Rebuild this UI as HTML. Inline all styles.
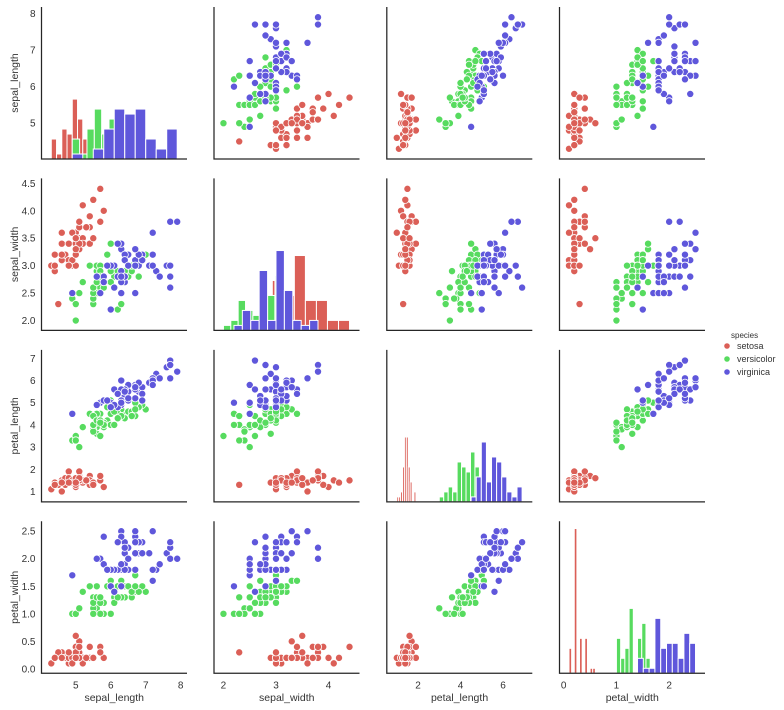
<!DOCTYPE html>
<html><head><meta charset="utf-8"><style>
body{margin:0;background:#fff;}
svg{display:block;font-family:"Liberation Sans",sans-serif;}
</style></head><body>
<svg id="chart" width="784" height="710"></svg>
<script>
const variables = ["sepal_length","sepal_width","petal_length","petal_width"];
const speciesNames = ["setosa","versicolor","virginica"];
const speciesColors = ["#db5f57","#57db5f","#5f57db"];
const sepalLength = [5.1,4.9,4.7,4.6,5.0,5.4,4.6,5.0,4.4,4.9,5.4,4.8,4.8,4.3,5.8,5.7,5.4,5.1,5.7,5.1,5.4,5.1,4.6,5.1,4.8,5.0,5.0,5.2,5.2,4.7,4.8,5.4,5.2,5.5,4.9,5.0,5.5,4.9,4.4,5.1,5.0,4.5,4.4,5.0,5.1,4.8,5.1,4.6,5.3,5.0,
7.0,6.4,6.9,5.5,6.5,5.7,6.3,4.9,6.6,5.2,5.0,5.9,6.0,6.1,5.6,6.7,5.6,5.8,6.2,5.6,5.9,6.1,6.3,6.1,6.4,6.6,6.8,6.7,6.0,5.7,5.5,5.5,5.8,6.0,5.4,6.0,6.7,6.3,5.6,5.5,5.5,6.1,5.8,5.0,5.6,5.7,5.7,6.2,5.1,5.7,
6.3,5.8,7.1,6.3,6.5,7.6,4.9,7.3,6.7,7.2,6.5,6.4,6.8,5.7,5.8,6.4,6.5,7.7,7.7,6.0,6.9,5.6,7.7,6.3,6.7,7.2,6.2,6.1,6.4,7.2,7.4,7.9,6.4,6.3,6.1,7.7,6.3,6.4,6.0,6.9,6.7,6.9,5.8,6.8,6.7,6.7,6.3,6.5,6.2,5.9];
const sepalWidth = [3.5,3.0,3.2,3.1,3.6,3.9,3.4,3.4,2.9,3.1,3.7,3.4,3.0,3.0,4.0,4.4,3.9,3.5,3.8,3.8,3.4,3.7,3.6,3.3,3.4,3.0,3.4,3.5,3.4,3.2,3.1,3.4,4.1,4.2,3.1,3.2,3.5,3.6,3.0,3.4,3.5,2.3,3.2,3.5,3.8,3.0,3.8,3.2,3.7,3.3,
3.2,3.2,3.1,2.3,2.8,2.8,3.3,2.4,2.9,2.7,2.0,3.0,2.2,2.9,2.9,3.1,3.0,2.7,2.2,2.5,3.2,2.8,2.5,2.8,2.9,3.0,2.8,3.0,2.9,2.6,2.4,2.4,2.7,2.7,3.0,3.4,3.1,2.3,3.0,2.5,2.6,3.0,2.6,2.3,2.7,3.0,2.9,2.9,2.5,2.8,
3.3,2.7,3.0,2.9,3.0,3.0,2.5,2.9,2.5,3.6,3.2,2.7,3.0,2.5,2.8,3.2,3.0,3.8,2.6,2.2,3.2,2.8,2.8,2.7,3.3,3.2,2.8,3.0,2.8,3.0,2.8,3.8,2.8,2.8,2.6,3.0,3.4,3.1,3.0,3.1,3.1,3.1,2.7,3.2,3.3,3.0,2.5,3.0,3.4,3.0];
const petalLength = [1.4,1.4,1.3,1.5,1.4,1.7,1.4,1.5,1.4,1.5,1.5,1.6,1.4,1.1,1.2,1.5,1.3,1.4,1.7,1.5,1.7,1.5,1.0,1.7,1.9,1.6,1.6,1.5,1.4,1.6,1.6,1.5,1.5,1.4,1.5,1.2,1.3,1.4,1.3,1.5,1.3,1.3,1.3,1.6,1.9,1.4,1.6,1.4,1.5,1.4,
4.7,4.5,4.9,4.0,4.6,4.5,4.7,3.3,4.6,3.9,3.5,4.2,4.0,4.7,3.6,4.4,4.5,4.1,4.5,3.9,4.8,4.0,4.9,4.7,4.3,4.4,4.8,5.0,4.5,3.5,3.8,3.7,3.9,5.1,4.5,4.5,4.7,4.4,4.1,4.0,4.4,4.6,4.0,3.3,4.2,4.2,4.2,4.3,3.0,4.1,
6.0,5.1,5.9,5.6,5.8,6.6,4.5,6.3,5.8,6.1,5.1,5.3,5.5,5.0,5.1,5.3,5.5,6.7,6.9,5.0,5.7,4.9,6.7,4.9,5.7,6.0,4.8,4.9,5.6,5.8,6.1,6.4,5.6,5.1,5.6,6.1,5.6,5.5,4.8,5.4,5.6,5.1,5.1,5.9,5.7,5.2,5.0,5.2,5.4,5.1];
const petalWidth = [0.2,0.2,0.2,0.2,0.2,0.4,0.3,0.2,0.2,0.1,0.2,0.2,0.1,0.1,0.2,0.4,0.4,0.3,0.3,0.3,0.2,0.4,0.2,0.5,0.2,0.2,0.4,0.2,0.2,0.2,0.2,0.4,0.1,0.2,0.2,0.2,0.2,0.1,0.2,0.2,0.3,0.3,0.2,0.6,0.4,0.3,0.2,0.2,0.2,0.2,
1.4,1.5,1.5,1.3,1.5,1.3,1.6,1.0,1.3,1.4,1.0,1.5,1.0,1.4,1.3,1.4,1.5,1.0,1.5,1.1,1.8,1.3,1.5,1.2,1.3,1.4,1.4,1.7,1.5,1.0,1.1,1.0,1.2,1.6,1.5,1.6,1.5,1.3,1.3,1.3,1.2,1.4,1.2,1.0,1.3,1.2,1.3,1.3,1.1,1.3,
2.5,1.9,2.1,1.8,2.2,2.1,1.7,1.8,1.8,2.5,2.0,1.9,2.1,2.0,2.4,2.3,1.8,2.2,2.3,1.5,2.3,2.0,2.0,1.8,2.1,1.8,1.8,1.8,2.1,1.6,1.9,2.0,2.2,1.5,1.4,2.3,2.4,1.8,1.8,2.1,2.4,2.3,1.9,2.3,2.5,2.3,1.9,2.0,2.3,1.8];
const speciesIndex = [].concat(Array(50).fill(0),Array(50).fill(1),Array(50).fill(2));
const axisLimits = [[4.02,8.18],[1.82,4.59],[0.53,7.38],[-0.08,2.68]];
const xTicks = [[5,6,7,8],[2,3,4],[2,4,6],[0,1,2]];
const xTickLabels = [["5","6","7","8"],["2","3","4"],["2","4","6"],["0","1","2"]];
const yTicks = [[5,6,7,8],[2.0,2.5,3.0,3.5,4.0,4.5],[1,2,3,4,5,6,7],[0.0,0.5,1.0,1.5,2.0,2.5]];
const yTickLabels = [["5","6","7","8"],["2.0","2.5","3.0","3.5","4.0","4.5"],["1","2","3","4","5","6","7"],["0.0","0.5","1.0","1.5","2.0","2.5"]];

const NS="http://www.w3.org/2000/svg";
const svg=document.getElementById('chart');
const data=[sepalLength,sepalWidth,petalLength,petalWidth];
const colL=[41.5,214,386.8,559.5], PW=145.5;
const rowT=[7,178.4,349.9,521.3], PH=152;
function mk(tag,attrs,parent){const e=document.createElementNS(NS,tag);for(const k in attrs)e.setAttribute(k,attrs[k]);(parent||svg).appendChild(e);return e;}
function xs(c,v){const[a,b]=axisLimits[c];return colL[c]+(v-a)/(b-a)*PW;}
function ys(r,v){const[a,b]=axisLimits[r];return rowT[r]+PH-(v-a)/(b-a)*PH;}

const hists=[];let maxCount=0;
for(let v=0;v<4;v++){hists[v]=[];for(let s=0;s<3;s++){
  const vals=data[v].filter((_,i)=>speciesIndex[i]===s);
  const mn=Math.min(...vals),mx=Math.max(...vals),w=(mx-mn)/10;
  const counts=Array(10).fill(0);
  vals.forEach(x=>{let k=Math.floor((x-mn)/w+1e-9);if(k>9)k=9;counts[k]++;});
  counts.forEach(c=>{if(c>maxCount)maxCount=c;});
  hists[v].push({mn,w,counts});
}}
const yMaxH=maxCount*1.05;

for(let r=0;r<4;r++)for(let c=0;c<4;c++){
  const g=mk('g',{});
  
  
  if(r===c){
    for(let s=0;s<3;s++){const h=hists[c][s];
      h.counts.forEach((cnt,k)=>{if(!cnt)return;
        const x0=xs(c,h.mn+k*h.w),x1=xs(c,h.mn+(k+1)*h.w);
        const hh=cnt/yMaxH*PH;
        const b=mk('rect',{x:x0,y:rowT[r]+PH-hh,width:Math.max(x1-x0,0.1),height:hh,fill:speciesColors[s],stroke:'#fff','stroke-width':1},g);
        
        
      });}
  } else {
    for(let i=0;i<150;i++){
      const p=mk('circle',{cx:xs(c,data[c][i]),cy:ys(r,data[r][i]),r:3.6,fill:speciesColors[speciesIndex[i]],stroke:'#fff','stroke-width':0.8},g);
      
      
    }
  }
  const sp=mk('path',{d:`M${colL[c]},${rowT[r]}V${rowT[r]+PH}H${colL[c]+PW}`,fill:'none',stroke:'#262626','stroke-width':1.25},g);
  
  
  if(c===0){
    yTicks[r].forEach((t,k)=>{const tx=mk('text',{x:colL[0]-6,y:ys(r,t)+3.5,'text-anchor':'end','font-size':10,fill:'#333'},g);tx.textContent=yTickLabels[r][k];
      
      });
    const yl=mk('text',{transform:`translate(18,${rowT[r]+PH/2}) rotate(-90)`,'text-anchor':'middle','font-size':10.5,fill:'#333'},g);
    yl.textContent=variables[r];
    
    
  }
  if(r===3){
    xTicks[c].forEach((t,k)=>{const tx=mk('text',{x:xs(c,t),y:rowT[3]+PH+15,'text-anchor':'middle','font-size':10,fill:'#333'},g);tx.textContent=xTickLabels[c][k];
      
      });
    const xl=mk('text',{x:colL[c]+PW/2,y:701,'text-anchor':'middle','font-size':10.5,fill:'#333'},g);
    xl.textContent=variables[c];
    
    
  }
}
const lg=mk('g',{});


const lt=mk('text',{x:731,y:338,'font-size':8,fill:'#333'},lg);lt.textContent='species';


speciesNames.forEach((n,s)=>{
  const e=mk('g',{},lg);
  
  
  mk('circle',{cx:727,cy:346+s*13,r:3.2,fill:speciesColors[s],stroke:'#fff','stroke-width':0.8},e);
  const t=mk('text',{x:737,y:349+s*13,'font-size':9,fill:'#333'},e);t.textContent=n;
});
</script>
</body></html>
